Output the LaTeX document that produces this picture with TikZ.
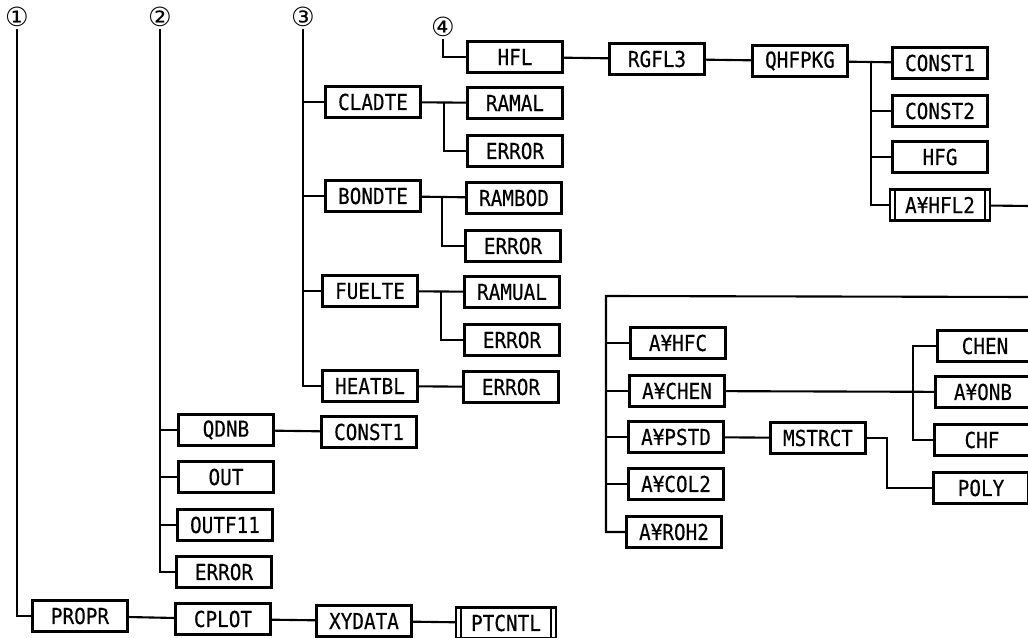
\documentclass[tikz,border=0pt]{standalone}
\usepackage{fontspec}
\newfontfamily\boxfont[FakeStretch=0.88,FakeBold=0.3]{DejaVu Sans Mono}
\newfontfamily\numfont{DejaVu Sans}
\usetikzlibrary{calc}
\tikzset{box/.style={draw,line width=1.2pt,minimum width=1.9cm,minimum height=0.62cm,inner sep=0pt,font=\boxfont\fontsize{12.5}{12}\selectfont},
  subbox/.style={box,minimum width=2cm,path picture={\draw[line width=0.9pt] ([xshift=0.1cm]path picture bounding box.north west) -- ([xshift=0.1cm]path picture bounding box.south west) ([xshift=-0.1cm]path picture bounding box.north east) -- ([xshift=-0.1cm]path picture bounding box.south east);}},
  num/.style={font=\numfont\fontsize{15}{15}\selectfont,inner sep=1pt},
  wire/.style={line width=1.2pt}}
\begin{document}
\begin{tikzpicture}[x=0.02cm,y=-0.02cm]
\useasboundingbox (0,0) rectangle (1028,638);
\clip (0,0) rectangle (1028,638);
\node[num] (n1) at (17,17){①};
\node[num] (n2) at (160,17){②};
\node[num] (n3) at (303,17){③};
\node[num] (n4) at (443,27){④};
\node[box] (propr) at (80,616){PROPR};
\node[box] (cplot) at (223,619){CPLOT};
\node[box] (xydata) at (364,621){XYDATA};
\node[subbox] (ptcntl) at (506,623){PTCNTL};
\node[box] (qdnb) at (226,430){QDNB};
\node[box] (cstm) at (369,432){CONST1};
\node[box] (out) at (226,477){OUT};
\node[box] (outf) at (225,525){OUTF11};
\node[box] (errb) at (224,572){ERROR};
\node[box] (cladte) at (373,102){CLADTE};
\node[box] (ramal) at (515,103){RAMAL};
\node[box] (erra) at (515,151){ERROR};
\node[box] (bondte) at (373,196){BONDTE};
\node[box] (rambod) at (514,198){RAMBOD};
\node[box] (errc) at (513,246){ERROR};
\node[box] (fuelte) at (370,291){FUELTE};
\node[box] (ramual) at (512,292){RAMUAL};
\node[box] (errd) at (512,340){ERROR};
\node[box] (heatbl) at (370,386){HEATBL};
\node[box] (erre) at (511,387){ERROR};
\node[box] (hfl) at (515,57){HFL};
\node[box] (rgfl) at (657,59){RGFL3};
\node[box] (qhf) at (800,61){QHFPKG};
\node[box] (csta) at (940,63){CONST1};
\node[box] (cstb) at (940,111){CONST2};
\node[box] (hfg) at (940,157){HFG};
\node[subbox] (ahfl) at (940,205){A¥HFL2};
\node[box] (ahfc) at (678,343){A¥HFC};
\node[box] (achen) at (677,391){A¥CHEN};
\node[box] (apstd) at (676,437){A¥PSTD};
\node[box] (acol) at (676,484){A¥COL2};
\node[box] (aroh) at (674,532){A¥ROH2};
\node[box] (mstrct) at (818,438){MSTRCT};
\node[box] (chen) at (985,346){CHEN};
\node[box] (aonb) at (983,392){A¥ONB};
\node[box] (chf) at (982,440){CHF};
\node[box] (poly) at (981,488){POLY};
\coordinate (ba) at (444,0); \coordinate (bb) at (442,0); \coordinate (bc) at (441,0);
\coordinate (qb) at (871,0); \coordinate (lb) at (606,296); \coordinate (cb) at (913,0);
\coordinate (pb) at (887,0); \coordinate (ea) at (1030,206); \coordinate (eb) at (1030,297);
\draw[wire] (n1.south) |- (propr.west);
\draw[wire] (propr) -- (cplot) -- (xydata) -- (ptcntl);
\draw[wire] (n2.south) |- (errb.west);
\foreach \n in {qdnb,out,outf} \draw[wire] (n2.south |- \n) -- (\n.west);
\draw[wire] (qdnb) -- (cstm);
\draw[wire] (n3.south) |- (heatbl.west);
\foreach \n in {cladte,bondte,fuelte} \draw[wire] (n3.south |- \n) -- (\n.west);
\draw[wire] (cladte) -- (ramal);
\draw[wire] (ba |- ramal) |- (erra.west);
\draw[wire] (bondte) -- (rambod);
\draw[wire] (bb |- rambod) |- (errc.west);
\draw[wire] (fuelte) -- (ramual);
\draw[wire] (bc |- ramual) |- (errd.west);
\draw[wire] (heatbl) -- (erre);
\draw[wire] (n4.south) |- (hfl.west);
\draw[wire] (hfl) -- (rgfl) -- (qhf) -- (csta);
\draw[wire] (qb |- csta) |- (ahfl.west);
\foreach \n in {cstb,hfg} \draw[wire] (qb |- \n) -- (\n.west);
\draw[wire] (ahfl) -- (ea);
\draw[wire] (eb) -- (lb) |- (aroh.west);
\foreach \n in {ahfc,achen,apstd,acol} \draw[wire] (lb |- \n) -- (\n.west);
\draw[wire] (achen) -- (aonb);
\draw[wire] (chen.west) -- (cb |- chen) |- (chf.west);
\draw[wire] (apstd) -- (mstrct);
\draw[wire] (mstrct.east) -- (pb |- mstrct) |- (poly.west);
\end{tikzpicture}
\end{document}
